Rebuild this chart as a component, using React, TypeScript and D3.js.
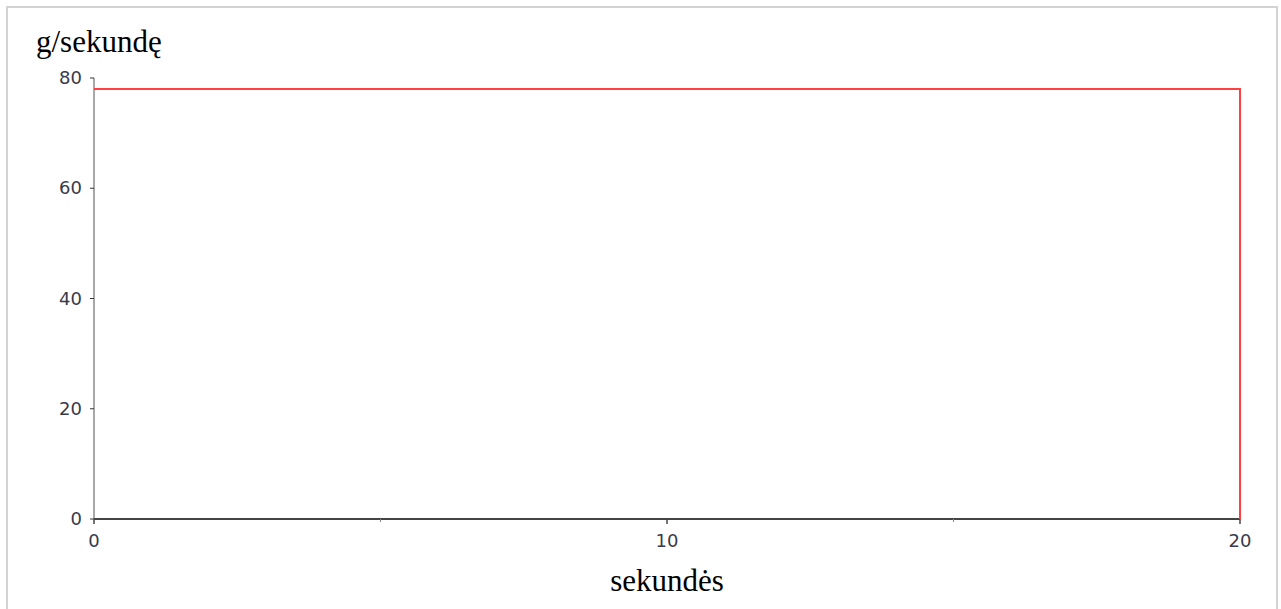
import React from "react";
import * as d3 from "d3";

const yTicks = [0, 20, 40, 60, 80];
const xMajorTicks = [0, 10, 20];
const xMinorTicks = [5, 15];
const seconds = [0, 20, 20];
const rate = [78, 78, 0];
const yTitle = "g/sekundę";
const xTitle = "sekundės";

export default function App() {
  const W = 1281, H = 609;
  const x = d3.scaleLinear().domain([0, 20]).range([94, 1240]);
  const y = d3.scaleLinear().domain([0, 80]).range([519, 78]);
  const pts: [number, number][] = seconds.map((s, i) => [s, rate[i]]);
  const line = d3.line<[number, number]>().x(d => x(d[0])).y(d => y(d[1]));
  const tickFont = "'DejaVu Sans', Verdana, sans-serif";
  const serif = "'Liberation Serif', 'Times New Roman', serif";
  return (
    <svg width={W} height={H} style={{ position: "absolute", left: 0, top: 0, background: "#fff" }}>
      <rect x={7} y={7} width={1270} height={620} fill="none" stroke="#d3d3d3" strokeWidth={2} />
      <text x={36} y={52} fontFamily={serif} fontSize={31} fill="#000">{yTitle}</text>
      <text x={667} y={591} textAnchor="middle" fontFamily={serif} fontSize={31} fill="#000">{xTitle}</text>
      {/* y axis */}
      <line x1={x(0)} x2={x(0)} y1={y(80)} y2={y(0)} stroke="#a8a8a8" strokeWidth={2} />
      {yTicks.map(t => (
        <g key={t}>
          <line x1={x(0) - 4} x2={x(0)} y1={y(t)} y2={y(t)} stroke="#333" strokeWidth={1} />
          <text x={82} y={y(t) + 6} textAnchor="end" fontFamily={tickFont} fontSize={18} fill="#3a3a4a">{t}</text>
        </g>
      ))}
      {/* x axis */}
      <line x1={x(0)} x2={x(20)} y1={y(0)} y2={y(0)} stroke="#444" strokeWidth={2} />
      {xMajorTicks.map(t => (
        <g key={t}>
          <line x1={x(t)} x2={x(t)} y1={y(0)} y2={y(0) + 5} stroke="#444" strokeWidth={1.5} />
          <text x={x(t)} y={y(0) + 28} textAnchor="middle" fontFamily={tickFont} fontSize={18} fill="#3a3a4a">{t}</text>
        </g>
      ))}
      {xMinorTicks.map(t => (
        <line key={t} x1={x(t)} x2={x(t)} y1={y(0)} y2={y(0) + 3} stroke="#888" strokeWidth={1} />
      ))}
      <path d={line(pts) || ""} fill="none" stroke="#ff4040" strokeWidth={2} />
    </svg>
  );
}
